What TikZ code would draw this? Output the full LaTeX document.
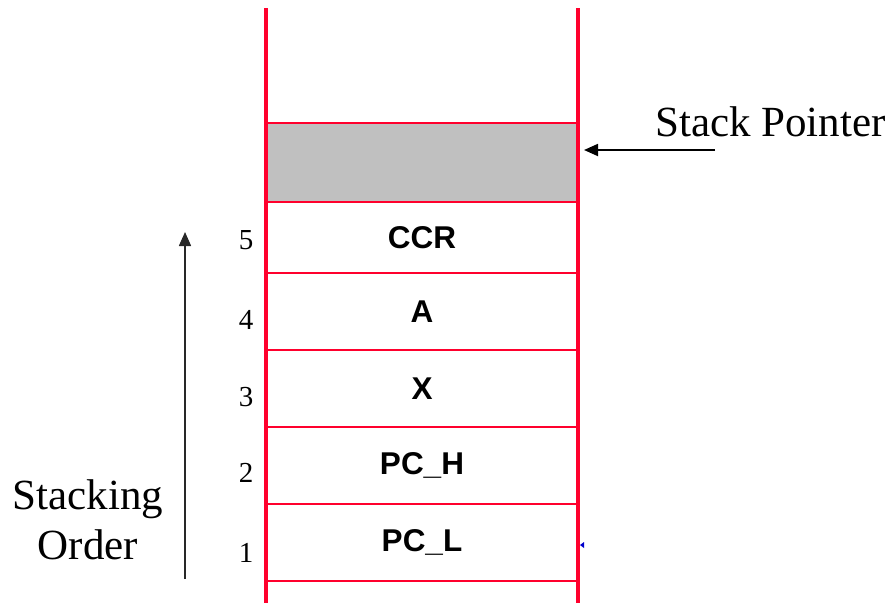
\documentclass[tikz,border=0pt]{standalone}
\usepackage{fontspec}
\setmainfont{Liberation Serif}
\newfontfamily\arialfont{Liberation Sans}
\usetikzlibrary{arrows.meta}
\definecolor{stackred}{RGB}{255,0,45}
\definecolor{cellgray}{RGB}{192,192,192}
\definecolor{arrowgray}{RGB}{40,40,40}
\tikzset{
  cell/.style={draw=stackred, line width=1.5pt, minimum width=310pt, inner sep=0pt,
    font=\arialfont\bfseries\fontsize{31.5}{33}\selectfont},
  wall/.style={draw=stackred, line width=4pt},
  num/.style={font=\fontsize{29}{30}\selectfont, inner sep=0pt},
  bigtext/.style={font=\fontsize{43}{50}\selectfont, inner sep=0pt},
  tip/.style={-{Triangle[length=14pt,width=12pt]}}
}
\begin{document}
\begin{tikzpicture}[x=1pt,y=-1pt]
\useasboundingbox (0,0) rectangle (894,603);
% cells
\node[cell, fill=cellgray, minimum height=79pt] (sp) at (422,162.5) {};
\node[cell, minimum height=71pt] (ccr) at (422,237.5) {CCR};
\node[cell, minimum height=77pt] (a) at (422,311.5) {A};
\node[cell, minimum height=77pt] (x) at (422,388.5) {X};
\node[cell, minimum height=77pt] (pch) at (422,465.5) {PC\_H};
\node[cell, minimum height=77pt] (pcl) at (422,542.5) {PC\_L};
% walls
\coordinate (lt) at (266,8); \coordinate (lb) at (266,603);
\coordinate (rt) at (578,8); \coordinate (rb) at (578,603);
\draw[wall] (lt) -- (lb);
\draw[wall] (rt) -- (rb);
% numbers
\node[num] (n5) at (246,240) {5};
\node[num] (n4) at (246,320) {4};
\node[num] (n3) at (246,397) {3};
\node[num] (n2) at (246,473) {2};
\node[num] (n1) at (246,553) {1};
% stack pointer
\node[bigtext, anchor=base west] (sptext) at (655,136) {Stack Pointer};
\coordinate (spfrom) at (715,150);
\coordinate (spto) at (584,150);
\draw[tip, line width=1.8pt] (spfrom) -- (spto);
% stacking order
\node[bigtext, align=center] (order) at (88,520) {Stacking\\Order};
\coordinate (ordfrom) at (185,579);
\coordinate (ordto) at (185,232);
\draw[tip, arrowgray, line width=1.5pt] (ordfrom) -- (ordto);
% small blue mark
\fill[blue!80!black] (580,545) -- (584,542) -- (584,548) -- cycle;
\end{tikzpicture}
\end{document}
